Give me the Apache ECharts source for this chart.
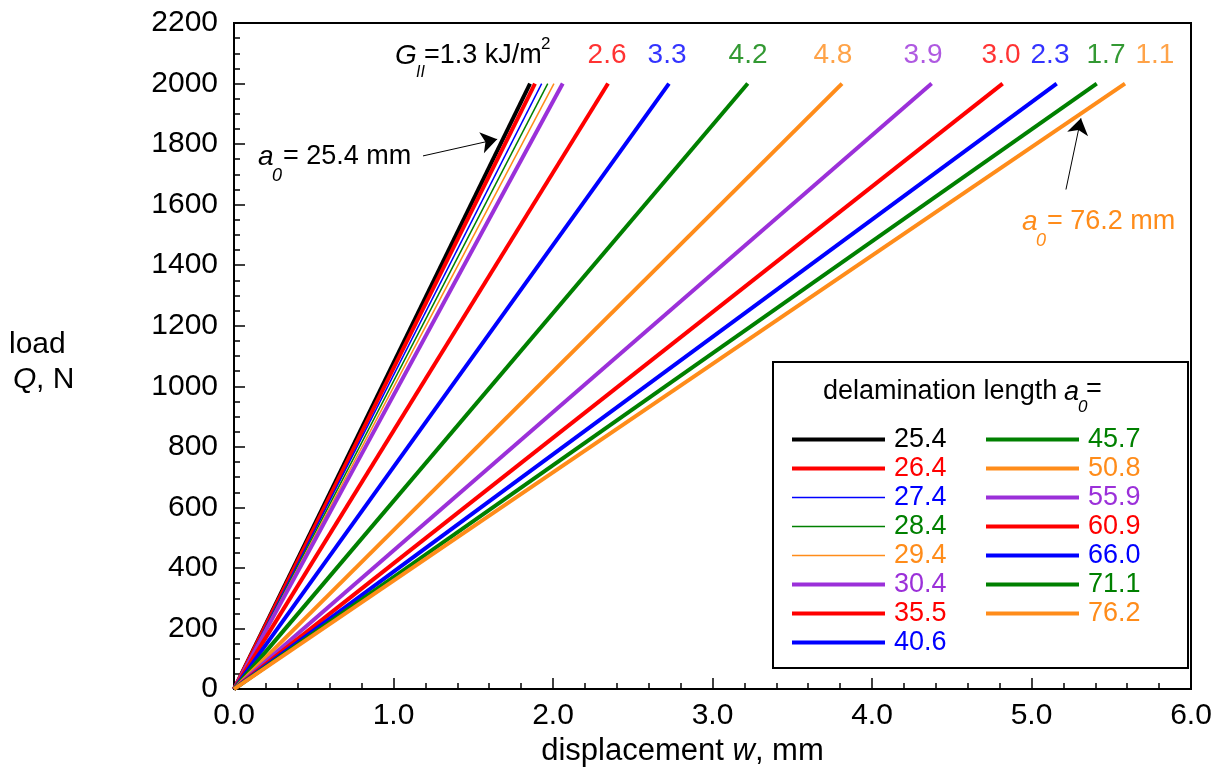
<!DOCTYPE html>
<html>
<head>
<meta charset="utf-8">
<script src="https://cdn.jsdelivr.net/npm/echarts@6/dist/echarts.min.js"></script>
<style>html,body{margin:0;padding:0;background:#fff}#c{width:1221px;height:772px}</style>
</head>
<body>
<div id="c"></div>
<script>
// ---- data ----
const a0Labels = ['25.4','26.4','27.4','28.4','29.4','30.4','35.5','40.6','45.7','50.8','55.9','60.9','66.0','71.1','76.2'];
const wAtEnd = [1.856,1.887,1.929,1.967,2.006,2.061,2.345,2.727,3.221,3.812,4.374,4.819,5.158,5.409,5.586];
const loadEnd = 2000;
const lineColors = ['#000000','#ff0000','#0000ff','#008000','#ff8c1a','#9b30d9','#ff0000','#0000ff','#008000','#ff8c1a','#9b30d9','#ff0000','#0000ff','#008000','#ff8c1a'];
const thinLines = ['27.4','28.4','29.4'];
const gValues = ['2.6','3.3','4.2','4.8','3.9','3.0','2.3','1.7','1.1'];
const gLabelW = [2.339,2.715,3.223,3.755,4.320,4.809,5.116,5.467,5.774];
const gLabelColors = ['#ff0000','#0000ff','#008000','#ff8c1a','#9b30d9','#ff0000','#0000ff','#008000','#ff8c1a'];
const gLabelQ = 2092;
const arrow1 = [[1.185,1761],[1.650,1816]];
const arrow2 = [[5.216,1650],[5.310,1885]];

const FONT = 'Liberation Sans, Arial, Helvetica, sans-serif';
const chart = echarts.init(document.getElementById('c'), null, {renderer:'canvas'});

const lineSeries = a0Labels.map((name,i)=>({
  name: name,
  type: 'line',
  symbol: 'none',
  silent: true,
  data: [[0,0],[wAtEnd[i],loadEnd]],
  lineStyle: {color: lineColors[i], width: thinLines.includes(name) ? 1.5 : 4},
  itemStyle: {color: lineColors[i]},
  z: 2
}));

const labelSeries = {
  type: 'scatter',
  name: 'glabels',
  symbolSize: 0,
  silent: true,
  data: gLabelW.map((w,i)=>({value:[w,gLabelQ], label:{color:gLabelColors[i]}})),
  label: {show:true, position:'inside', fontSize:28, fontFamily:FONT,
    formatter: p => gValues[p.dataIndex]},
  z: 5
};

const arrowSeries = {
  type: 'line',
  name: 'arrows',
  data: [],
  silent: true,
  markLine: {
    silent: true,
    symbol: ['none','arrow'],
    symbolSize: 16,
    label: {show:false},
    lineStyle: {color:'#000', width:1, type:'solid'},
    data: [
      [{coord: arrow1[0]},{coord: arrow1[1]}],
      [{coord: arrow2[0]},{coord: arrow2[1]}]
    ]
  }
};

function legendCfg(names, left){
  return {
    orient:'vertical', left:left, top:426, padding:0,
    itemWidth:93, itemHeight:26, itemGap:2, selectedMode:false,
    lineStyle:{width:'inherit'},
    itemStyle:{opacity:0, borderWidth:0},
    textStyle:{fontSize:27, lineHeight:26, fontFamily:FONT, padding:[0,0,0,4]},
    data: names.map(n=>({name:n, itemStyle:{opacity:0}, textStyle:{color: lineColors[a0Labels.indexOf(n)]}}))
  };
}

function txt(x,y,s,size,opts){
  return {type:'text', x:x, y:y, silent:true,
    style:Object.assign({text:s, fontSize:size, fontFamily:FONT, fill:'#000', verticalAlign:'middle', align:'left'}, opts||{})};
}

const graphics = [
  // legend box
  {type:'rect', shape:{x:773, y:362, width:415, height:306}, style:{fill:'none', stroke:'#000', lineWidth:2}, silent:true, z:10},
  txt(823,392,'delamination length',27),
  txt(1064,392,'a',27,{fontStyle:'italic'}),
  txt(1078,407,'0',17,{fontStyle:'italic'}),
  txt(1086,390,'=',27),
  // G_II label
  txt(395,56,'G',28,{fontStyle:'italic'}),
  txt(416,73,'II',16,{fontStyle:'italic'}),
  txt(424,56,'=1.3 kJ/m',27),
  txt(541,44,'2',17),
  // a0 = 25.4 mm
  txt(258,157,'a',28,{fontStyle:'italic'}),
  txt(272,176,'0',18,{fontStyle:'italic'}),
  txt(283,157,'= 25.4 mm',27),
  // a0 = 76.2 mm
  txt(1022,222,'a',28,{fontStyle:'italic', fill:'#ff8c1a'}),
  txt(1036,241,'0',18,{fontStyle:'italic', fill:'#ff8c1a'}),
  txt(1047,222,'= 76.2 mm',27,{fill:'#ff8c1a'}),
  // y-axis name
  txt(9,345,'load',30),
  txt(13,380,'Q',30,{fontStyle:'italic'}),
  txt(36,380,', N',30)
];

chart.setOption({
  animation:false,
  backgroundColor:'#fff',
  textStyle:{fontFamily:FONT},
  grid:{left:234, right:30, top:23, bottom:77, show:true, borderColor:'#000', borderWidth:2, backgroundColor:'transparent'},
  legend:[legendCfg(a0Labels.slice(0,8),790), legendCfg(a0Labels.slice(8),984)],
  xAxis:{
    type:'value', min:0, max:6, interval:1,
    name:'{n|displacement }{i|w}{n|, mm}', nameLocation:'middle', nameGap:40,
    nameTextStyle:{padding:[0,60,0,0], rich:{n:{fontSize:31, fontFamily:FONT, color:'#000'}, i:{fontSize:31, fontFamily:FONT, fontStyle:'italic', color:'#000'}}},
    axisLine:{show:true, lineStyle:{color:'#000', width:2}},
    axisTick:{show:true, inside:true, length:11, lineStyle:{color:'#000', width:1.5}},
    minorTick:{show:true, splitNumber:5, length:6, lineStyle:{color:'#000', width:1.5}},
    splitLine:{show:false},
    axisLabel:{fontSize:30, color:'#000', fontFamily:FONT, margin:12, formatter:v=>v.toFixed(1)}
  },
  yAxis:{
    type:'value', min:0, max:2200, interval:200,
    axisLine:{show:true, lineStyle:{color:'#000', width:2}},
    axisTick:{show:true, inside:true, length:11, lineStyle:{color:'#000', width:1.5}},
    minorTick:{show:true, splitNumber:4, length:6, lineStyle:{color:'#000', width:1.5}},
    splitLine:{show:false},
    axisLabel:{fontSize:30, color:'#000', fontFamily:FONT, margin:16, formatter:v=>String(v)}
  },
  graphic: graphics,
  series: lineSeries.concat([labelSeries, arrowSeries])
});
</script>
</body>
</html>
